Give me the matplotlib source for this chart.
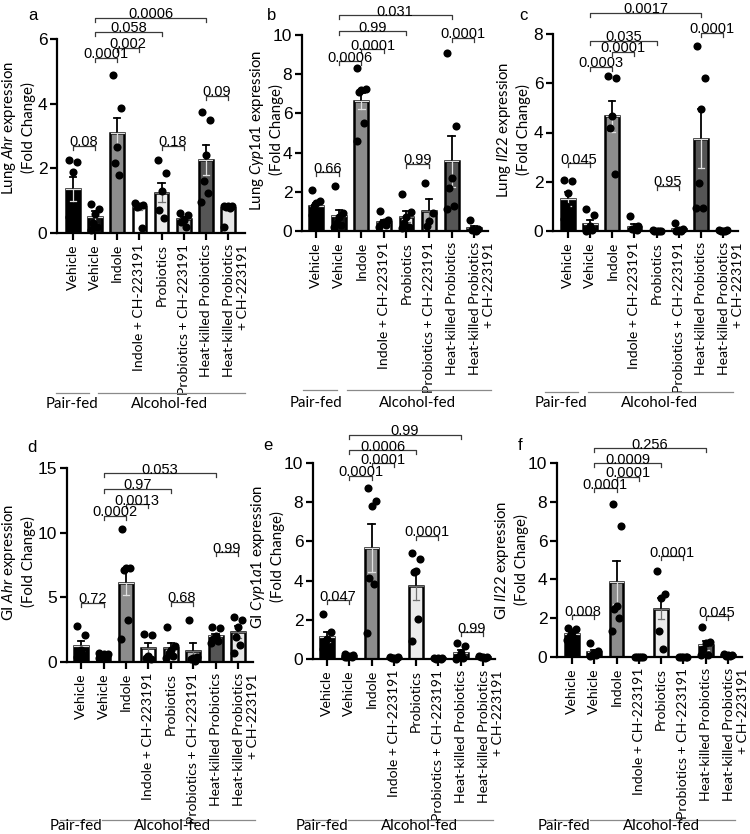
import numpy as np
import matplotlib
matplotlib.use("Agg")
import matplotlib.pyplot as plt
from matplotlib.lines import Line2D
from matplotlib.transforms import ScaledTranslation

plt.rcParams['font.family'] = ['Liberation Sans', 'DejaVu Sans']
plt.rcParams['mathtext.fontset'] = 'custom'
plt.rcParams['mathtext.rm'] = 'Lato'
plt.rcParams['mathtext.it'] = 'Lato:italic'

# ---------------- data ----------------
categories = ["Vehicle", "Vehicle", "Indole", "Indole + CH-223191", "Probiotics",
              "Probiotics + CH-223191", "Heat-killed Probiotics",
              "Heat-killed Probiotics\n+ CH-223191"]
groups = ["Pair-fed", "Alcohol-fed"]
bar_colors = ["#000000", "#111111", "#8c8c8c", "#ffffff", "#ebebeb", "#b4b4b4", "#555555", "#e6e6e6"]

a_label = "Lung $\\mathit{Ahr}$ expression\n(Fold Change)"
a_mean = [1.35, 0.48, 3.1, 0.8, 1.25, 0.42, 2.25, 0.78]
a_sem = [0.37, 0.2, 0.47, 0.08, 0.3, 0.08, 0.47, 0.05]
a_pts = [[2.25, 2.2, 1.9, 0.7, 0.6, 0.5],
         [0.9, 0.75, 0.6, 0.3, 0.2, 0.1],
         [4.89, 3.87, 2.66, 2.17, 1.8],
         [0.92, 0.88, 0.85, 0.8, 0.15],
         [2.25, 1.85, 1.3, 0.7, 0.45],
         [0.62, 0.55, 0.4, 0.35, 0.2],
         [3.75, 3.5, 2.4, 1.6, 1.25, 0.95],
         [0.85, 0.85, 0.82, 0.8, 0.78, 0.2]]
a_pvals = [(0, 1, 2.7, "0.08"), (1, 2, 5.42, "0.0001"), (2, 3, 5.73, "0.002"),
           (1, 4, 6.22, "0.058"), (1, 6, 6.65, "0.0006"), (4, 5, 2.7, "0.18"),
           (6, 7, 4.24, "0.09")]

b_label = "Lung $\\mathit{Cyp1a1}$ expression\n(Fold Change)"
b_mean = [1.3, 0.75, 6.65, 0.48, 0.72, 1.02, 3.55, 0.15]
b_sem = [0.15, 0.3, 0.4, 0.1, 0.28, 0.62, 1.3, 0.1]
b_pts = [[2.08, 1.55, 1.45, 1.3, 1.0, 0.8],
         [2.3, 0.9, 0.7, 0.4, 0.3, 0.2],
         [8.3, 7.25, 7.2, 7.1, 5.5, 4.6],
         [1.0, 0.55, 0.45, 0.4, 0.3, 0.2],
         [1.9, 0.95, 0.7, 0.4, 0.2, 0.15],
         [2.45, 0.9, 0.5, 0.25],
         [9.1, 5.35, 2.7, 2.2, 1.3, 1.1],
         [0.55, 0.1, 0.05, 0.05, 0.02]]
b_pvals = [(0, 1, 3.0, "0.66"), (1, 2, 8.67, "0.0006"), (2, 3, 9.28, "0.0001"),
           (1, 4, 10.2, "0.99"), (1, 6, 11.0, "0.031"), (6, 7, 9.85, "0.0001"),
           (4, 5, 3.42, "0.99")]

c_label = "Lung $\\mathit{Il22}$ expression\n(Fold Change)"
c_mean = [1.3, 0.3, 4.65, 0.18, 0.02, 0.08, 3.75, 0.02]
c_sem = [0.28, 0.15, 0.62, 0.1, 0.01, 0.06, 1.2, 0.01]
c_pts = [[2.07, 2.05, 1.56, 1.0, 0.6, 0.5],
         [0.88, 0.65, 0.2, 0.1, 0.05, 0.02],
         [6.3, 6.2, 4.65, 4.2, 2.3],
         [0.6, 0.2, 0.1, 0.1, 0.05],
         [0.03, 0.02, 0.02, 0.01, 0.01],
         [0.33, 0.1, 0.05, 0.02, 0.01],
         [7.52, 6.2, 4.96, 1.96, 0.95, 0.93],
         [0.05, 0.03, 0.02, 0.01, 0.01]]
c_pvals = [(0, 1, 2.76, "0.045"), (1, 2, 6.67, "0.0003"), (2, 3, 7.28, "0.0001"),
           (1, 4, 7.72, "0.035"), (1, 6, 8.86, "0.0017"), (6, 7, 8.05, "0.0001"),
           (4, 5, 1.83, "0.95")]

d_label = "GI $\\mathit{Ahr}$ expression\n(Fold Change)"
d_mean = [1.25, 0.52, 6.1, 1.05, 1.08, 0.85, 2.0, 2.3]
d_sem = [0.4, 0.08, 0.9, 0.4, 0.36, 0.6, 0.2, 0.45]
d_pts = [[2.78, 2.08, 0.9, 0.6, 0.5, 0.4],
         [0.7, 0.65, 0.6, 0.5, 0.4, 0.3],
         [10.28, 7.27, 7.25, 7.1, 3.25, 1.78],
         [2.2, 2.1, 0.5, 0.3, 0.2],
         [2.7, 1.2, 0.9, 0.7, 0.5, 0.3],
         [3.25, 0.4, 0.3, 0.2, 0.1],
         [2.7, 2.6, 2.0, 1.8, 1.6, 1.5],
         [3.5, 3.25, 2.7, 1.9, 1.3, 0.67]]
d_pvals = [(0, 1, 4.58, "0.72"), (1, 2, 11.3, "0.0002"), (2, 3, 12.2, "0.0013"),
           (1, 4, 13.4, "0.97"), (1, 6, 14.6, "0.053"), (6, 7, 8.5, "0.99"),
           (4, 5, 4.66, "0.68")]

e_label = "GI $\\mathit{Cyp1a1}$ expression\n(Fold Change)"
e_mean = [1.12, 0.15, 5.65, 0.05, 3.73, 0.03, 0.3, 0.1]
e_sem = [0.27, 0.04, 1.22, 0.02, 0.7, 0.01, 0.15, 0.03]
e_pts = [[2.28, 1.39, 1.0, 0.9, 0.6, 0.5],
         [0.25, 0.2, 0.15, 0.12, 0.1, 0.08],
         [8.72, 8.08, 7.8, 4.15, 3.83, 1.31],
         [0.1, 0.08, 0.05, 0.03, 0.02],
         [5.4, 5.1, 4.5, 4.45, 2.05, 0.9],
         [0.05, 0.04, 0.03, 0.02, 0.02],
         [0.8, 0.65, 0.3, 0.1, 0.05, 0.02],
         [0.15, 0.12, 0.1, 0.08, 0.05]]
e_pvals = [(0, 1, 3.0, "0.047"), (1, 2, 9.34, "0.0001"), (2, 3, 10.0, "0.0001"),
           (1, 4, 10.66, "0.0006"), (1, 6, 11.43, "0.99"), (4, 5, 6.28, "0.0001"),
           (6, 7, 1.37, "0.99")]

f_label = "GI $\\mathit{Il22}$ expression\n(Fold Change)"
f_mean = [1.18, 0.25, 3.85, 0.02, 2.5, 0.02, 0.6, 0.09]
f_sem = [0.08, 0.1, 1.12, 0.005, 0.55, 0.005, 0.25, 0.02]
f_pts = [[1.51, 1.45, 1.3, 1.1, 1.0, 0.9],
         [0.74, 0.3, 0.2, 0.1, 0.1, 0.05],
         [7.89, 6.75, 2.63, 2.5, 2.0, 1.36],
         [0.02, 0.02, 0.02, 0.02, 0.02],
         [4.45, 3.25, 3.04, 1.36, 0.41],
         [0.02, 0.02, 0.02, 0.02, 0.02],
         [1.54, 0.79, 0.7, 0.4, 0.1, 0.1],
         [0.15, 0.1, 0.1, 0.05, 0.05]]
f_pvals = [(0, 1, 2.16, "0.008"), (1, 2, 8.7, "0.0001"), (2, 3, 9.28, "0.0001"),
           (1, 4, 10.0, "0.0009"), (1, 6, 10.77, "0.256"), (4, 5, 5.2, "0.0001"),
           (6, 7, 2.11, "0.045")]

# ---------------- layout (pixels) ----------------
W, H = 750, 834
fig = plt.figure(figsize=(W / 100, H / 100), dpi=100)

panels = [
    ("a", a_label, a_mean, a_sem, a_pts, a_pvals, 6, 2, 57, 245, 233, 39, -0.72, 7.77, 18, 128, (33, 15),
     (56, 89, 98, 245, 393, 72, 169, 404)),
    ("b", b_label, b_mean, b_sem, b_pts, b_pvals, 10, 2, 302, 488, 231, 35, -0.64, 7.62, 266, 130, (272, 15),
     (303, 337, 347, 491, 390, 316, 417, 403)),
    ("c", c_label, c_mean, c_sem, c_pts, c_pvals, 8, 2, 553, 738, 231, 34, -0.68, 7.68, 513, 130, (523, 15),
     (545, 578, 588, 733, 392, 561, 659, 403)),
    ("d", d_label, d_mean, d_sem, d_pts, d_pvals, 15, 5, 67, 253, 662, 468, -0.63, 7.67, 18, 562, (32, 448),
     (60, 97, 102, 255, 820, 76, 172, 826)),
    ("e", e_label, e_mean, e_sem, e_pts, e_pvals, 10, 2, 313, 495, 659, 463, -0.63, 7.54, 267, 557, (268, 445),
     (305, 338, 348, 493, 820, 322, 419, 826)),
    ("f", f_label, f_mean, f_sem, f_pts, f_pvals, 10, 2, 557, 742, 657, 463, -0.67, 7.63, 511, 560, (520, 445),
     (547, 582, 590, 735, 820, 564, 661, 826)),
]

offset_pattern = [-0.18, 0.18, 0.0, -0.1, 0.1, -0.2, 0.2]
label_font = "Lato"
cat_size = 10.1

for (letter, ylab, mean, sem, pts, pvals, ymax, ystep, L, R, B, T, xl, xr,
     labx, laby, lxy, grp) in panels:
    ax = fig.add_axes([L / W, 1 - B / H, (R - L) / W, (B - T) / H])
    x = np.arange(len(categories))
    ax.bar(x, mean, width=0.62, color=bar_colors, edgecolor="black", linewidth=1.8, zorder=2)
    for i in range(len(categories)):
        ax.plot([i, i], [mean[i], mean[i] + sem[i]], color="black", lw=1.3, zorder=3)
        ax.plot([i - 0.14, i + 0.14], [mean[i] + sem[i]] * 2, color="black", lw=1.3, zorder=3)
        low_c = "#e0e0e0" if i in (0, 1, 2, 6) else "#707070"
        ax.plot([i, i], [mean[i] - sem[i], mean[i]], color=low_c, lw=0.9, zorder=3)
        ax.plot([i - 0.14, i + 0.14], [mean[i] - sem[i]] * 2, color=low_c, lw=0.9, zorder=3)
        ax.plot([i - 0.3, i + 0.3], [mean[i]] * 2, color=low_c, lw=0.9, zorder=3)
        p = pts[i]
        xs = [i + offset_pattern[k % len(offset_pattern)] for k in range(len(p))]
        ax.scatter(xs, p, s=34, color="black", zorder=4, linewidths=0, clip_on=False)
    ax.set_xlim(xl, xr)
    ax.set_ylim(0, ymax)
    for s in ("top", "right"):
        ax.spines[s].set_visible(False)
    for s in ("left", "bottom"):
        ax.spines[s].set_linewidth(1.6)
    ax.tick_params(axis="both", width=1.6, length=5)
    ax.tick_params(axis="y", labelsize=12.5, pad=2)
    ax.tick_params(axis="x", pad=3, labelsize=cat_size)
    ax.set_yticks(np.arange(0, ymax + 0.01, ystep))
    ax.set_yticklabels([str(int(v)) for v in np.arange(0, ymax + 0.01, ystep)])
    ax.set_xticks(x)
    ax.set_xticklabels(categories, rotation=90, ha="center", va="top",
                       multialignment="right", family=label_font, fontsize=cat_size)
    last = ax.get_xticklabels()[-1]
    last.set_transform(last.get_transform() + ScaledTranslation(0.08, 0, fig.dpi_scale_trans))

    # y label (two lines, rotated), centred at given pixel position
    fig.text(labx / W, 1 - laby / H, ylab, family=label_font, fontsize=10.8, rotation=90,
             ha="center", va="center", multialignment="center", linespacing=1.3)

    # p-value brackets
    upp = ymax / (B - T)  # data units per pixel
    for (i, j, yv, txt) in pvals:
        ax.plot([i, i, j, j], [yv - 4 * upp, yv, yv, yv - 4 * upp], color="#3a3a3a",
                lw=0.9, clip_on=False, zorder=5)
        ax.text((i + j) / 2, yv - 0.5 * upp, txt, ha="center", va="baseline",
                fontsize=10.5, clip_on=False, zorder=6)

    fig.text(lxy[0] / W, 1 - lxy[1] / H, letter, fontsize=12, ha="center", va="center")

    pl0, pl1, al0, al1, ly, ptx, atx, ty = grp
    fig.add_artist(Line2D([pl0 / W, pl1 / W], [1 - ly / H] * 2, color="#8a8a8a", lw=0.9))
    fig.add_artist(Line2D([al0 / W, al1 / W], [1 - ly / H] * 2, color="#8a8a8a", lw=0.9))
    fig.text(ptx / W, 1 - ty / H, groups[0], family=label_font, fontsize=10.8, ha="center", va="center")
    fig.text(atx / W, 1 - ty / H, groups[1], family=label_font, fontsize=10.8, ha="center", va="center")

fig.savefig("out.png", dpi=100)
